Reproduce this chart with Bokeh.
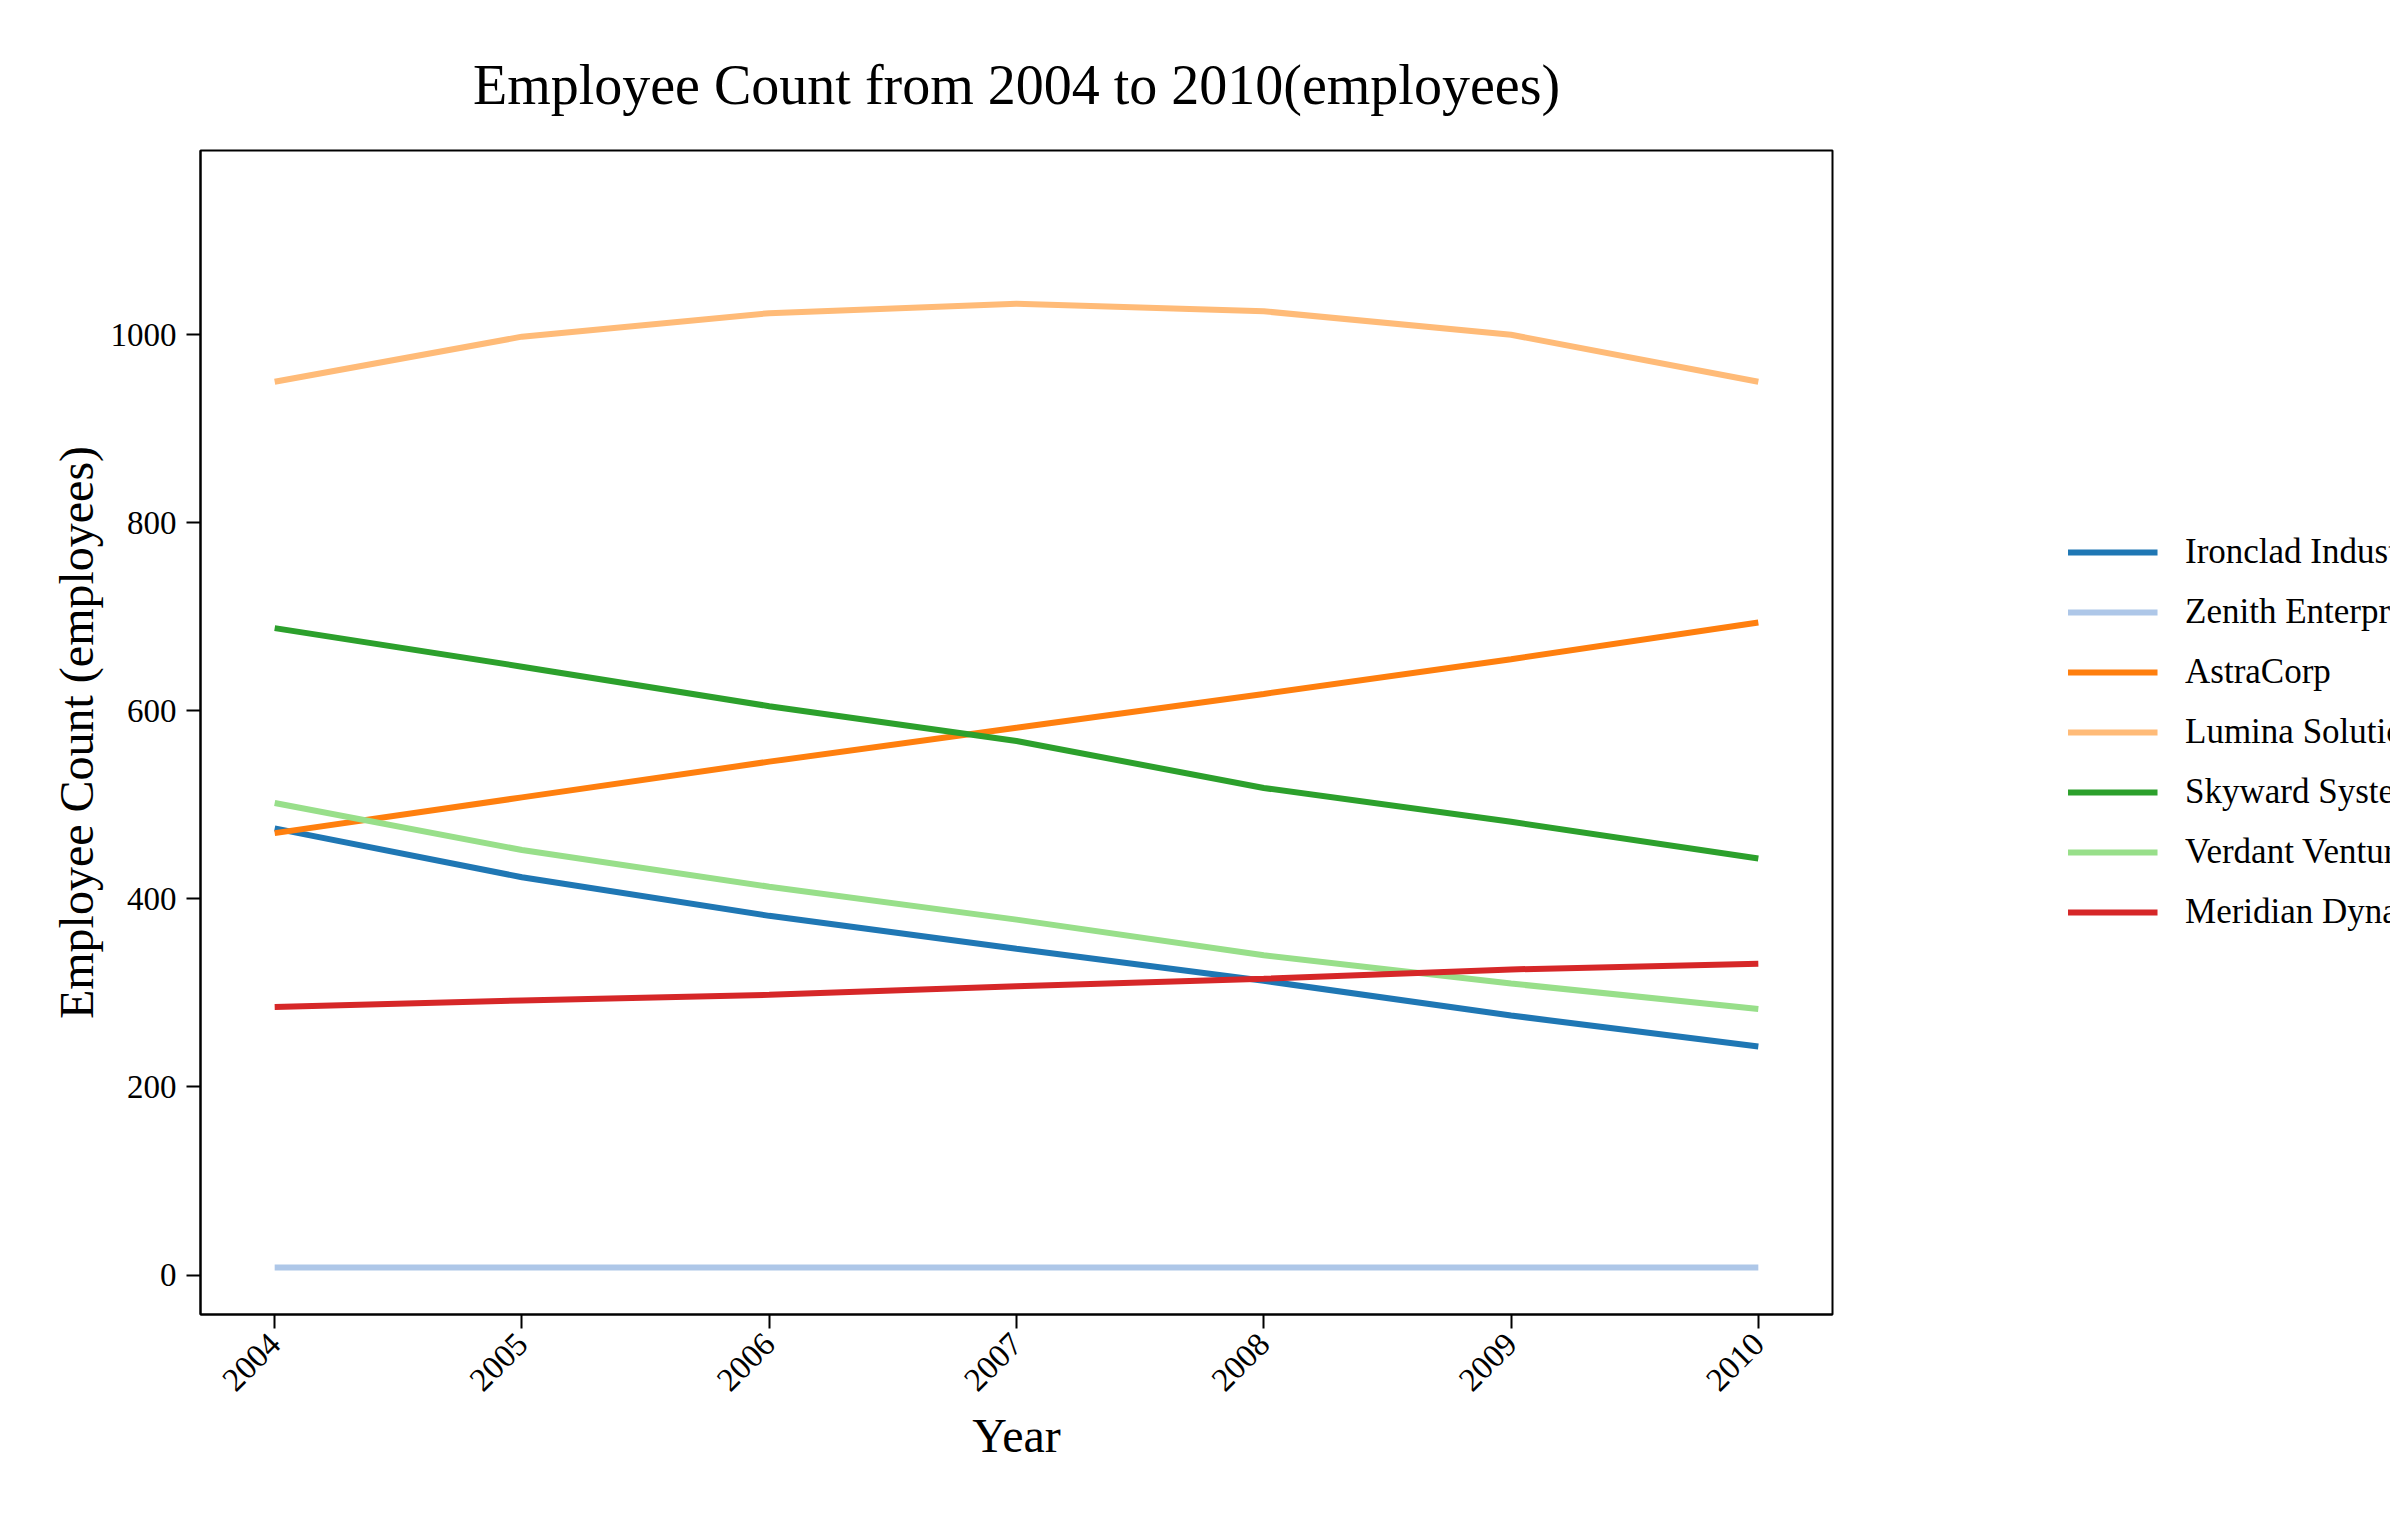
import math
from bokeh.plotting import figure
from bokeh.models import Legend, LegendItem, FixedTicker
from bokeh.embed import file_html
from bokeh.resources import INLINE

years = [2004, 2005, 2006, 2007, 2008, 2009, 2010]
series_names = ["Ironclad Industries", "Zenith Enterprises", "AstraCorp", "Lumina Solutions",
                "Skyward Systems", "Verdant Ventures", "Meridian Dynamics"]
ironclad = [475, 423, 382, 347, 313, 276, 243]
zenith = [8, 8, 8, 8, 8, 8, 8]
astracorp = [470, 508, 546, 582, 618, 655, 694]
lumina = [950, 998, 1023, 1033, 1025, 1000, 950]
skyward = [688, 647, 605, 568, 518, 482, 443]
verdant = [502, 452, 413, 378, 340, 310, 283]
meridian = [285, 292, 298, 307, 315, 325, 331]
colors = ["#1f77b4", "#aec7e8", "#ff7f0e", "#ffbb78", "#2ca02c", "#98df8a", "#d62728"]
all_series = [ironclad, zenith, astracorp, lumina, skyward, verdant, meridian]

FONT = "Liberation Serif"

p = figure(frame_width=1632, frame_height=1164, output_backend="svg", toolbar_location=None,
           x_range=(2003.70, 2010.30), y_range=(-42, 1196),
           title="Employee Count from 2004 to 2010(employees)",
           x_axis_label="Year", y_axis_label="Employee Count (employees)",
           min_border_left=200, min_border_top=150, min_border_bottom=150, min_border_right=10)

p.title.text_font = FONT
p.title.text_font_size = "56px"
p.title.text_font_style = "normal"
p.title.text_color = "black"
p.title.align = "center"
p.title.offset = 0
p.title.standoff = 70

items = []
for name, vals, c in zip(series_names, all_series, colors):
    r = p.line(years, vals, line_color=c, line_width=6)
    items.append(LegendItem(label=name, renderers=[r]))

legend = Legend(items=items, location="center", label_text_font=FONT, label_text_font_size="35px",
                label_text_color="black",
                glyph_width=90, glyph_height=30, spacing=20, border_line_color=None,
                label_standoff=28, margin=30, padding=10)
p.add_layout(legend, "right")

p.xgrid.visible = False
p.ygrid.visible = False
p.outline_line_color = "black"
p.outline_line_width = 2

p.xaxis.ticker = FixedTicker(ticks=years)
p.yaxis.ticker = FixedTicker(ticks=[0, 200, 400, 600, 800, 1000])
p.xaxis.major_label_orientation = math.pi / 4
for ax in (p.xaxis, p.yaxis):
    ax.axis_label_text_font = FONT
    ax.axis_label_text_font_size = "48px"
    ax.axis_label_text_font_style = "normal"
    ax.axis_label_text_color = "black"
    ax.major_label_text_font = FONT
    ax.major_label_text_font_size = "33px"
    ax.major_label_text_color = "black"
    ax.minor_tick_line_color = None
    ax.major_tick_in = 0
    ax.major_tick_out = 14
    ax.major_tick_line_width = 2
    ax.axis_line_width = 2
    ax.major_label_standoff = 10

out = file_html(p, INLINE)
open("out.html", "w").write(out)
